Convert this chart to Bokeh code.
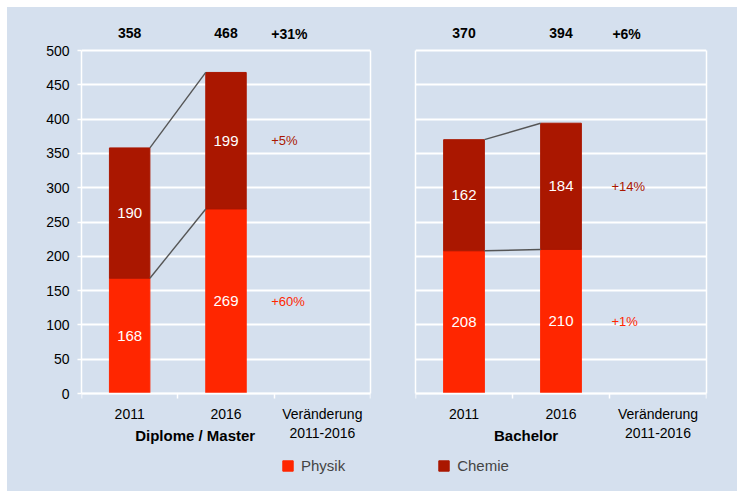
from bokeh.plotting import figure
from bokeh.models import (ColumnDataSource, LabelSet, Label, FixedTicker, Range1d,
                          Legend, LegendItem, LinearAxis)
from bokeh.layouts import column, row
from bokeh.core.properties import value
from bokeh.embed import file_html
from bokeh.resources import INLINE

# ---- data ----
categories = ["2011", "2016", "Veränderung\n2011-2016"]
years = ["2011", "2016"]
dm_physik = [168, 269]
dm_chemie = [190, 199]
dm_totals = ["358", "468"]
dm_change = "+31%"
dm_pct_physik = "+60%"
dm_pct_chemie = "+5%"
ba_physik = [208, 210]
ba_chemie = [162, 184]
ba_totals = ["370", "394"]
ba_change = "+6%"
ba_pct_physik = "+1%"
ba_pct_chemie = "+14%"
series = ["Physik", "Chemie"]
y_ticks = list(range(0, 501, 50))

BG = "#D5E0EE"
C_PHYSIK = "#FF2600"
C_CHEMIE = "#AA1700"
FONT = "Liberation Sans"
BAR_W = 0.42

# layout constants (pixels)
PLOT_PX = 343          # pixels for 0..500
PAD_TOP = 33           # frame space above 500
PAD_BOT = 57           # frame space below 0
K = PLOT_PX / 500.0


def make_panel(width, ml, mr, physik, chemie, totals, change, pct_ph, pct_ch,
               group_label, label_x, change_x, pct_x, show_y):
    p = figure(width=width, height=443,
               x_range=Range1d(0, 3),
               y_range=Range1d(-PAD_BOT / K, 500 + PAD_TOP / K),
               output_backend="svg", toolbar_location=None,
               min_border_left=ml, min_border_right=mr, min_border_top=10, min_border_bottom=0,
               background_fill_color=BG, border_fill_color=BG,
               outline_line_color=None)
    xs = [i + 0.5 for i in range(len(physik))]
    tops = [a + b for a, b in zip(physik, chemie)]
    src = ColumnDataSource(dict(x=xs, physik=physik, chemie=chemie, top=tops,
                                zero=[0] * len(xs),
                                ph_mid=[v / 2 for v in physik],
                                ch_mid=[a + b / 2 for a, b in zip(physik, chemie)],
                                ph_txt=[str(v) for v in physik],
                                ch_txt=[str(v) for v in chemie],
                                tot_txt=totals, tot_y=[500] * len(xs)))

    # grid
    p.xgrid.visible = False
    p.ygrid.grid_line_color = "white"
    p.ygrid.grid_line_width = 1.8
    p.ygrid.ticker = FixedTicker(ticks=y_ticks)

    p.vbar(x="x", bottom="zero", top="physik", width=BAR_W, source=src,
           fill_color=C_PHYSIK, line_color=C_PHYSIK)
    p.vbar(x="x", bottom="physik", top="top", width=BAR_W, source=src,
           fill_color=C_CHEMIE, line_color=C_CHEMIE)
    # connectors
    p.segment(x0=[xs[0] + BAR_W / 2] * 2, y0=[tops[0], physik[0]],
              x1=[xs[1] - BAR_W / 2] * 2, y1=[tops[1], physik[1]],
              line_color="#555555", line_width=1.4)
    # value labels in segments
    for col, mid in (("ph_txt", "ph_mid"), ("ch_txt", "ch_mid")):
        p.add_layout(LabelSet(x="x", y=mid, text=col, source=src, text_color="white",
                              text_font=value(FONT), text_font_size="15px",
                              text_align="center", text_baseline="middle"))
    # totals on top
    p.add_layout(LabelSet(x="x", y="tot_y", y_offset=18, text="tot_txt", source=src,
                          text_color="black", text_font=value(FONT), text_font_size="14px",
                          text_font_style="bold", text_align="center", text_baseline="middle"))
    p.add_layout(Label(x=change_x, y=500, y_offset=17, text=change, text_color="black",
                       text_font=FONT, text_font_size="14px", text_font_style="bold",
                       text_align="left", text_baseline="middle"))
    # percent changes
    psrc = ColumnDataSource(dict(x=[pct_x, pct_x],
                                 y=[physik[1] / 2, physik[1] + chemie[1] / 2],
                                 t=[pct_ph, pct_ch], c=[C_PHYSIK, C_CHEMIE]))
    p.add_layout(LabelSet(x="x", y="y", text="t", text_color="c", source=psrc,
                          text_font=value(FONT), text_font_size="13px",
                          text_align="left", text_baseline="middle"))
    # group label
    p.add_layout(Label(x=label_x, y=0, y_offset=-42, text=group_label, text_color="black",
                       text_font=FONT, text_font_size="15px", text_font_style="bold",
                       text_align="center", text_baseline="middle"))

    # x axis fixed at y = 0
    xa = p.xaxis[0]
    xa.fixed_location = 0
    xa.ticker = FixedTicker(ticks=[0.5, 1.5, 2.5], minor_ticks=[0, 1, 2, 3])
    xa.major_label_overrides = {0.5: categories[0], 1.5: categories[1], 2.5: categories[2]}
    xa.axis_line_color = "white"
    xa.axis_line_width = 1.5
    xa.major_tick_line_color = None
    xa.major_tick_out = 0
    xa.major_tick_in = 0
    xa.minor_tick_line_color = "white"
    xa.minor_tick_line_width = 1.5
    xa.minor_tick_out = 5
    xa.minor_tick_in = 0
    xa.major_label_standoff = 7
    xa.major_label_text_font = FONT
    xa.major_label_text_font_size = "14px"
    xa.major_label_text_color = "black"

    # left y axis
    ya = p.yaxis[0]
    ya.bounds = (0, 500)
    ya.axis_line_color = "white"
    ya.axis_line_width = 1.5
    ya.minor_tick_line_color = None
    if show_y:
        ya.ticker = FixedTicker(ticks=y_ticks)
        ya.major_tick_line_color = "white"
        ya.major_tick_line_width = 1.5
        ya.major_tick_out = 4
        ya.major_tick_in = 0
        ya.major_label_standoff = 8
        ya.major_label_text_font = FONT
        ya.major_label_text_font_size = "14px"
        ya.major_label_text_color = "black"
    else:
        ya.ticker = FixedTicker(ticks=[])
        ya.major_tick_line_color = None
        ya.major_label_text_font_size = "0px"
        ya.major_label_standoff = 0

    # right frame edge
    ra = LinearAxis(bounds=(0, 500), ticker=FixedTicker(ticks=[]),
                    axis_line_color="white", axis_line_width=1.5,
                    major_tick_line_color=None, minor_tick_line_color=None,
                    major_label_text_font_size="0px", major_label_standoff=0)
    p.add_layout(ra, "right")
    return p


p1 = make_panel(385, 74, 22, dm_physik, dm_chemie, dm_totals, dm_change,
                dm_pct_physik, dm_pct_chemie, "Diplome / Master", 1.18, 1.97, 1.97, True)
p2 = make_panel(345, 23, 31, ba_physik, ba_chemie, ba_totals, ba_change,
                ba_pct_physik, ba_pct_chemie, "Bachelor", 1.14, 2.03, 2.02, False)

pleg = figure(width=730, height=41, output_backend="svg", toolbar_location=None,
              min_border=0, x_axis_location=None, y_axis_location=None,
              background_fill_color=BG, border_fill_color=BG, outline_line_color=None,
              x_range=Range1d(0, 1), y_range=Range1d(0, 1))
pleg.grid.visible = False
r1 = pleg.vbar(x=[5], top=[5], bottom=[4], width=0.1, fill_color=C_PHYSIK, line_color=C_PHYSIK)
r2 = pleg.vbar(x=[5], top=[5], bottom=[4], width=0.1, fill_color=C_CHEMIE, line_color=C_CHEMIE)
legend = Legend(items=[LegendItem(label=series[0], renderers=[r1]),
                       LegendItem(label=series[1], renderers=[r2])],
                orientation="horizontal", location=(274, 17),
                glyph_width=13, glyph_height=13, label_standoff=7, spacing=92,
                padding=0, margin=0, border_line_color=None, background_fill_alpha=0,
                label_text_font=FONT, label_text_font_size="15px", label_height=13)
pleg.add_layout(legend)

layout = column(row(p1, p2, spacing=0), pleg, spacing=0, margin=(7, 0, 0, 7),
                styles={"background-color": BG})
open("out.html", "w").write(file_html(layout, INLINE))
